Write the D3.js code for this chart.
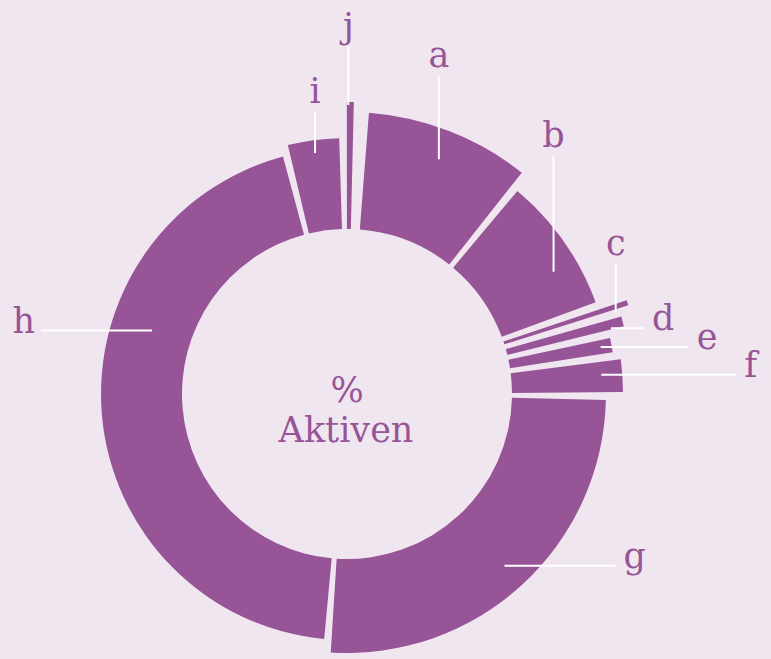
<!DOCTYPE html>
<html>
<head>
<meta charset="utf-8">
<script src="https://cdn.jsdelivr.net/npm/d3@7"></script>
<style>
  html, body { margin: 0; padding: 0; background: #f0e6f0; }
  svg { display: block; }
</style>
</head>
<body>
<div id="chart"></div>
<script>
// slice keys, share of total (%) and ring reach (0-100)
const keys   = ["a", "b", "c", "d", "e", "f", "g", "h", "i", "j"];
const shares = [9.9, 8.7, 0.3, 0.6, 0.9, 2.0, 27.0, 46.7, 3.4, 0.4];
const reach  = [86.7, 74.1, 96.3, 88.9, 77.0, 82.2, 69.6, 60.0, 67.4, 94.1];

// label placement: direction, inset from outer edge, leader length, angle nudge (deg)
const labelLayout = [
  { dir: "up",    inset: 30, len: 83,  nudge: 0 },
  { dir: "up",    inset: 25, len: 116, nudge: 4.5 },
  { dir: "up",    inset: 14, len: 48,  nudge: 1 },
  { dir: "right", inset: 13, len: 33,  nudge: 0.8 },
  { dir: "right", inset: 11, len: 88,  nudge: 0 },
  { dir: "right", inset: 21, len: 135, nudge: -0.5 },
  { dir: "right", inset: 26, len: 111, nudge: 0 },
  { dir: "left",  inset: 41, len: 111, nudge: 22.9 },
  { dir: "up",    inset: 13, len: 41,  nudge: 0 },
  { dir: "up",    inset: 3,  len: 58,  nudge: -0.4 }
];

const width = 771, height = 659;
const cx = 347, cy = 394;
const innerR = 165;
const purple = "#975597";
const bg = "#f0e6f0";
const font = "'DejaVu Serif', serif";
const deg = Math.PI / 180;

const rScale = d3.scaleLinear().domain([0, 100]).range([innerR, 300]);

const svg = d3.select("#chart").append("svg")
    .attr("width", width)
    .attr("height", height);

svg.append("rect")
    .attr("width", width)
    .attr("height", height)
    .attr("fill", bg);

const g = svg.append("g").attr("transform", `translate(${cx},${cy})`);

const pad = 1.72 * deg;
const pie = d3.pie()
    .sort(null)
    .padAngle(pad)
    .startAngle(3.6 * deg)
    .endAngle(362.2 * deg);

const arcs = pie(shares);

// gaps are angular, so shrink each slice by hand and switch off arc padding
const arc = d3.arc()
    .innerRadius(innerR)
    .outerRadius(d => rScale(reach[d.index]))
    .startAngle(d => d.startAngle + d.padAngle / 2)
    .endAngle(d => d.endAngle - d.padAngle / 2)
    .padAngle(0);

g.selectAll("path.slice")
  .data(arcs)
  .join("path")
    .attr("class", "slice")
    .attr("d", arc)
    .attr("fill", purple);

// leader lines + labels
arcs.forEach((d, i) => {
  const lay = labelLayout[i];
  const a = (d.startAngle + d.endAngle) / 2 + lay.nudge * deg;
  const r = rScale(reach[i]) - lay.inset;
  const x1 = Math.sin(a) * r;
  const y1 = -Math.cos(a) * r;
  let x2 = x1, y2 = y1;
  if (lay.dir === "up") y2 = y1 - lay.len;
  if (lay.dir === "right") x2 = x1 + lay.len;
  if (lay.dir === "left") x2 = x1 - lay.len;

  g.append("line")
    .attr("x1", x1).attr("y1", y1)
    .attr("x2", x2).attr("y2", y2)
    .attr("stroke", "#ffffff")
    .attr("stroke-width", 2);

  const t = g.append("text")
    .text(keys[i])
    .attr("font-family", font)
    .attr("font-size", 35)
    .attr("fill", purple);

  if (lay.dir === "up") {
    t.attr("x", x2).attr("y", y2 - 9).attr("text-anchor", "middle");
  } else if (lay.dir === "right") {
    t.attr("x", x2 + 8).attr("y", y2 + 2).attr("text-anchor", "start");
  } else {
    t.attr("x", x2 - 6).attr("y", y2 + 2).attr("text-anchor", "end");
  }
});

// centre title
g.append("text")
    .text("%")
    .attr("x", 0)
    .attr("y", 7.7)
    .attr("text-anchor", "middle")
    .attr("font-family", font)
    .attr("font-size", 35)
    .attr("fill", purple);

g.append("text")
    .text("Aktiven")
    .attr("x", -1)
    .attr("y", 47.7)
    .attr("text-anchor", "middle")
    .attr("font-family", font)
    .attr("font-size", 35)
    .attr("fill", purple);
</script>
</body>
</html>
